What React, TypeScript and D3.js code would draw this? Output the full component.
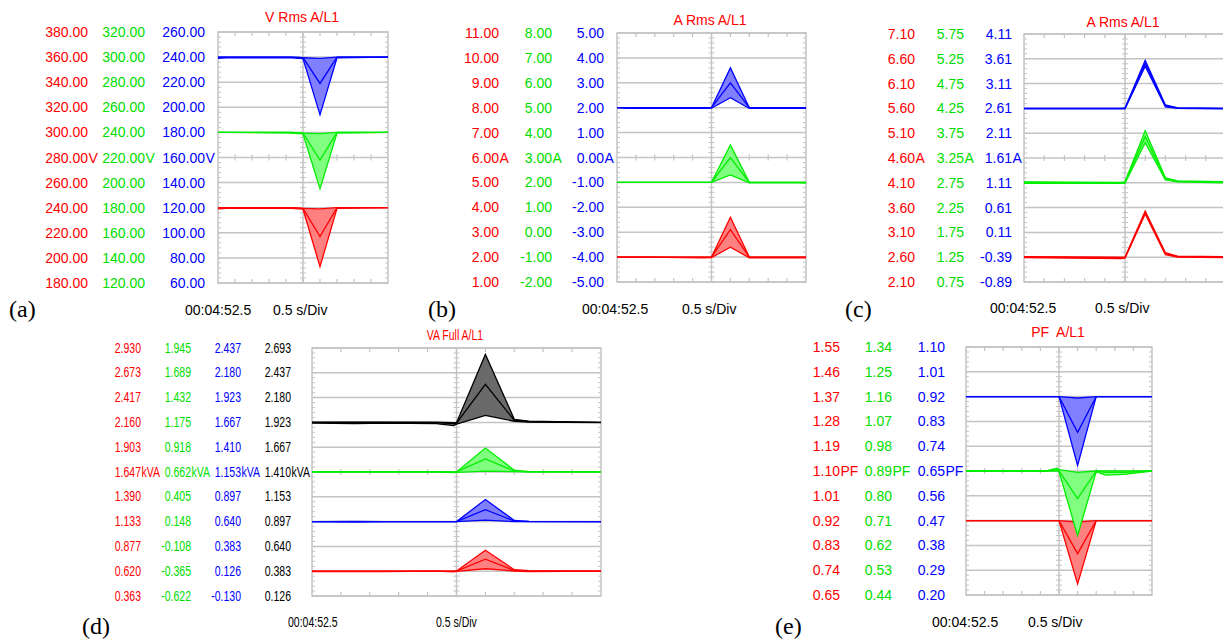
import React from "react";
import * as d3 from "d3";

// ---------------- DATA ----------------
// x positions are in divisions (0.5 s/Div, 10 divisions)
const aTicksRed = ["380.00", "360.00", "340.00", "320.00", "300.00", "280.00", "260.00", "240.00", "220.00", "200.00", "180.00"];
const aTicksGreen = ["320.00", "300.00", "280.00", "260.00", "240.00", "220.00", "200.00", "180.00", "160.00", "140.00", "120.00"];
const aTicksBlue = ["260.00", "240.00", "220.00", "200.00", "180.00", "160.00", "140.00", "120.00", "100.00", "80.00", "60.00"];
const aTime = [0, 0.5, 4.3, 5, 6, 7, 10];
const aBlueMax = [240, 240, 240, 239.5, 239, 240, 240];
const aBlueAvg = [240, 240, 240, 239.5, 219, 240, 240];
const aBlueMin = [239, 239.5, 239.5, 238.8, 194, 239.5, 240];
const aGreenMax = [240, 240, 240, 239.5, 239, 240, 240];
const aGreenAvg = [240, 240, 240, 239.5, 218, 240, 240];
const aGreenMin = [240, 240, 239.5, 238.8, 195, 239.5, 240];
const aRedMax = [240, 240, 240, 239.5, 239, 240, 240];
const aRedAvg = [240, 240, 240, 239.5, 217, 240, 240];
const aRedMin = [239, 239.5, 239.5, 238.8, 193, 239.5, 240];

const bTicksRed = ["11.00", "10.00", "9.00", "8.00", "7.00", "6.00", "5.00", "4.00", "3.00", "2.00", "1.00"];
const bTicksGreen = ["8.00", "7.00", "6.00", "5.00", "4.00", "3.00", "2.00", "1.00", "0.00", "-1.00", "-2.00"];
const bTicksBlue = ["5.00", "4.00", "3.00", "2.00", "1.00", "0.00", "-1.00", "-2.00", "-3.00", "-4.00", "-5.00"];
const bTime = [0, 0.5, 1.4, 4.6, 5, 6, 7, 7.5, 9.5, 10];
const bBlueMax = [2.0, 2.0, 2.0, 2.0, 2.0, 3.6, 2.0, 2.0, 2.0, 2.0];
const bBlueAvg = [2.0, 2.0, 2.0, 2.0, 2.0, 3.0, 2.0, 2.0, 2.0, 2.0];
const bBlueMin = [2.0, 1.97, 1.97, 1.97, 1.98, 2.4, 1.97, 1.97, 1.97, 1.97];
const bGreenMax = [2.0, 2.0, 2.0, 2.0, 2.0, 3.5, 2.0, 2.0, 2.0, 2.0];
const bGreenAvg = [2.0, 2.0, 2.0, 2.0, 2.0, 3.0, 2.0, 2.0, 2.0, 2.0];
const bGreenMin = [2.0, 2.0, 2.0, 2.0, 2.0, 2.3, 1.98, 1.98, 1.98, 1.97];
const bRedMax = [2.0, 2.0, 2.0, 2.0, 2.0, 3.6, 2.0, 2.0, 2.0, 2.0];
const bRedAvg = [2.0, 2.0, 2.0, 2.0, 2.0, 3.1, 2.0, 2.0, 2.0, 2.0];
const bRedMin = [2.0, 2.0, 2.0, 1.97, 1.98, 2.4, 1.97, 1.97, 1.97, 1.97];

const cTicksRed = ["7.10", "6.60", "6.10", "5.60", "5.10", "4.60", "4.10", "3.60", "3.10", "2.60", "2.10"];
const cTicksGreen = ["5.75", "5.25", "4.75", "4.25", "3.75", "3.25", "2.75", "2.25", "1.75", "1.25", "0.75"];
const cTicksBlue = ["4.11", "3.61", "3.11", "2.61", "2.11", "1.61", "1.11", "0.61", "0.11", "-0.39", "-0.89"];
const cTime = [0, 4.8, 5, 6, 7, 7.6, 10];
const cBlueMax = [2.61, 2.61, 2.62, 3.58, 2.68, 2.62, 2.61];
const cBlueAvg = [2.61, 2.61, 2.61, 3.52, 2.66, 2.62, 2.61];
const cBlueMin = [2.6, 2.6, 2.6, 3.46, 2.64, 2.61, 2.6];
const cGreenMax = [2.77, 2.76, 2.77, 3.8, 2.85, 2.79, 2.77];
const cGreenAvg = [2.76, 2.75, 2.76, 3.68, 2.83, 2.78, 2.76];
const cGreenMin = [2.74, 2.74, 2.74, 3.56, 2.81, 2.77, 2.75];
const cRedMax = [2.61, 2.6, 2.6, 3.53, 2.69, 2.62, 2.61];
const cRedAvg = [2.6, 2.59, 2.59, 3.5, 2.67, 2.61, 2.6];
const cRedMin = [2.59, 2.57, 2.58, 3.47, 2.65, 2.6, 2.59];

const dTicksRed = ["2.930", "2.673", "2.417", "2.160", "1.903", "1.647", "1.390", "1.133", "0.877", "0.620", "0.363"];
const dTicksGreen = ["1.945", "1.689", "1.432", "1.175", "0.918", "0.662", "0.405", "0.148", "-0.108", "-0.365", "-0.622"];
const dTicksBlue = ["2.437", "2.180", "1.923", "1.667", "1.410", "1.153", "0.897", "0.640", "0.383", "0.126", "-0.130"];
const dTicksBlack = ["2.693", "2.437", "2.180", "1.923", "1.667", "1.410", "1.153", "0.897", "0.640", "0.383", "0.126"];
const dTime = [0, 1.5, 2.5, 4.3, 4.9, 5, 6, 7, 7.5, 10];
const dBlackMax = [1.925, 1.925, 1.925, 1.925, 1.92, 1.92, 2.627, 1.955, 1.935, 1.923];
const dBlackAvg = [1.923, 1.923, 1.923, 1.92, 1.91, 1.915, 2.316, 1.945, 1.93, 1.923];
const dBlackMin = [1.915, 1.91, 1.915, 1.91, 1.89, 1.905, 1.995, 1.935, 1.925, 1.92];
const dGreenMax = [0.662, 0.662, 0.662, 0.662, 0.662, 0.662, 0.91, 0.68, 0.666, 0.662];
const dGreenAvg = [0.662, 0.662, 0.662, 0.662, 0.66, 0.662, 0.797, 0.672, 0.664, 0.662];
const dGreenMin = [0.662, 0.662, 0.662, 0.662, 0.655, 0.658, 0.67, 0.665, 0.662, 0.662];
const dBlueMax = [0.64, 0.642, 0.64, 0.64, 0.64, 0.64, 0.868, 0.652, 0.642, 0.64];
const dBlueAvg = [0.64, 0.64, 0.64, 0.64, 0.64, 0.64, 0.764, 0.646, 0.641, 0.64];
const dBlueMin = [0.64, 0.635, 0.64, 0.64, 0.64, 0.64, 0.655, 0.64, 0.64, 0.64];
const dRedMax = [0.62, 0.62, 0.62, 0.62, 0.62, 0.622, 0.837, 0.635, 0.625, 0.62];
const dRedAvg = [0.62, 0.62, 0.62, 0.62, 0.62, 0.62, 0.744, 0.628, 0.622, 0.62];
const dRedMin = [0.615, 0.615, 0.615, 0.62, 0.613, 0.618, 0.645, 0.622, 0.615, 0.62];

const eTicksRed = ["1.55", "1.46", "1.37", "1.28", "1.19", "1.10", "1.01", "0.92", "0.83", "0.74", "0.65"];
const eTicksGreen = ["1.34", "1.25", "1.16", "1.07", "0.98", "0.89", "0.80", "0.71", "0.62", "0.53", "0.44"];
const eTicksBlue = ["1.10", "1.01", "0.92", "0.83", "0.74", "0.65", "0.56", "0.47", "0.38", "0.29", "0.20"];
const eTime = [0, 4.3, 4.9, 5, 6, 7, 7.5, 8.5, 10];
const eBlueMax = [0.92, 0.92, 0.92, 0.92, 0.915, 0.92, 0.92, 0.92, 0.92];
const eBlueAvg = [0.92, 0.92, 0.92, 0.92, 0.79, 0.92, 0.92, 0.92, 0.92];
const eBlueMin = [0.92, 0.92, 0.92, 0.92, 0.67, 0.92, 0.92, 0.92, 0.92];
const eGreenMax = [0.89, 0.89, 0.9, 0.895, 0.885, 0.89, 0.89, 0.89, 0.89];
const eGreenAvg = [0.89, 0.89, 0.895, 0.89, 0.79, 0.89, 0.885, 0.885, 0.89];
const eGreenMin = [0.89, 0.89, 0.89, 0.888, 0.655, 0.888, 0.875, 0.878, 0.89];
const eRedMax = [0.92, 0.92, 0.92, 0.92, 0.915, 0.92, 0.92, 0.92, 0.92];
const eRedAvg = [0.92, 0.92, 0.92, 0.92, 0.8, 0.92, 0.92, 0.92, 0.92];
const eRedMin = [0.92, 0.92, 0.92, 0.92, 0.69, 0.92, 0.92, 0.92, 0.92];

const timeStamp = "00:04:52.5";
const timeBase = "0.5 s/Div";

// ---------------- STYLE ----------------
const RED = "#ff0000";
const GREEN_T = "#00dd00";
const GREEN = "#00ee00";
const BLUE = "#0000ff";
const BLACK = "#000000";
const FILL = { red: "#ff8080", green: "#80ff80", blue: "#8080ff", black: "#6a6a6a" };
const GRID = "#c4c4c4";
const SANS = "'Liberation Sans', Arial, sans-serif";
const SERIF = "'Liberation Serif', 'Times New Roman', serif";

type Col = { ticks: string[]; color: string; right: number };
type Series = { col: number; color: string; fill: string; max: number[]; avg: number[]; min: number[] };
type PanelCfg = {
  id: string;
  box: { x0: number; x1: number; y0: number; y1: number };
  cols: Col[];
  unit: string;
  time: number[];
  series: Series[];
  title: string;
  titleX: number;
  titleY: number;
  tsX: number;
  tbX: number;
  labY: number;
  tag: string;
  tagX: number;
  tagY: number;
  sx: number;
};

const panels: PanelCfg[] = [
  {
    id: "a", box: { x0: 218, x1: 388, y0: 32, y1: 283 },
    cols: [
      { ticks: aTicksRed, color: RED, right: 88 },
      { ticks: aTicksGreen, color: GREEN_T, right: 145 },
      { ticks: aTicksBlue, color: BLUE, right: 205 },
    ],
    unit: "V", time: aTime,
    series: [
      { col: 0, color: RED, fill: FILL.red, max: aRedMax, avg: aRedAvg, min: aRedMin },
      { col: 1, color: GREEN, fill: FILL.green, max: aGreenMax, avg: aGreenAvg, min: aGreenMin },
      { col: 2, color: BLUE, fill: FILL.blue, max: aBlueMax, avg: aBlueAvg, min: aBlueMin },
    ],
    title: "V Rms A/L1", titleX: 302, titleY: 17,
    tsX: 185, tbX: 273, labY: 310, tag: "(a)", tagX: 9, tagY: 317, sx: 1,
  },
  {
    id: "b", box: { x0: 617, x1: 806, y0: 33, y1: 282 },
    cols: [
      { ticks: bTicksRed, color: RED, right: 499 },
      { ticks: bTicksGreen, color: GREEN_T, right: 552 },
      { ticks: bTicksBlue, color: BLUE, right: 604 },
    ],
    unit: "A", time: bTime,
    series: [
      { col: 0, color: RED, fill: FILL.red, max: bRedMax, avg: bRedAvg, min: bRedMin },
      { col: 1, color: GREEN, fill: FILL.green, max: bGreenMax, avg: bGreenAvg, min: bGreenMin },
      { col: 2, color: BLUE, fill: FILL.blue, max: bBlueMax, avg: bBlueAvg, min: bBlueMin },
    ],
    title: "A Rms A/L1", titleX: 710, titleY: 20,
    tsX: 582, tbX: 682, labY: 309, tag: "(b)", tagX: 428, tagY: 317, sx: 1,
  },
  {
    id: "c", box: { x0: 1024, x1: 1226, y0: 34, y1: 282 },
    cols: [
      { ticks: cTicksRed, color: RED, right: 915 },
      { ticks: cTicksGreen, color: GREEN_T, right: 964 },
      { ticks: cTicksBlue, color: BLUE, right: 1012 },
    ],
    unit: "A", time: cTime,
    series: [
      { col: 0, color: RED, fill: FILL.red, max: cRedMax, avg: cRedAvg, min: cRedMin },
      { col: 1, color: GREEN, fill: FILL.green, max: cGreenMax, avg: cGreenAvg, min: cGreenMin },
      { col: 2, color: BLUE, fill: FILL.blue, max: cBlueMax, avg: cBlueAvg, min: cBlueMin },
    ],
    title: "A Rms A/L1", titleX: 1123, titleY: 22,
    tsX: 990, tbX: 1095, labY: 308, tag: "(c)", tagX: 845, tagY: 317, sx: 1,
  },
  {
    id: "d", box: { x0: 312, x1: 601, y0: 348, y1: 596 },
    cols: [
      { ticks: dTicksRed, color: RED, right: 141 },
      { ticks: dTicksGreen, color: GREEN_T, right: 191 },
      { ticks: dTicksBlue, color: BLUE, right: 241 },
      { ticks: dTicksBlack, color: BLACK, right: 291 },
    ],
    unit: "kVA", time: dTime,
    series: [
      { col: 0, color: RED, fill: FILL.red, max: dRedMax, avg: dRedAvg, min: dRedMin },
      { col: 2, color: BLUE, fill: FILL.blue, max: dBlueMax, avg: dBlueAvg, min: dBlueMin },
      { col: 1, color: GREEN, fill: FILL.green, max: dGreenMax, avg: dGreenAvg, min: dGreenMin },
      { col: 3, color: BLACK, fill: FILL.black, max: dBlackMax, avg: dBlackAvg, min: dBlackMin },
    ],
    title: "VA Full A/L1", titleX: 455, titleY: 335,
    tsX: 288, tbX: 436, labY: 622, tag: "(d)", tagX: 82, tagY: 634, sx: 0.75,
  },
  {
    id: "e", box: { x0: 966, x1: 1152, y0: 347, y1: 595 },
    cols: [
      { ticks: eTicksRed, color: RED, right: 840 },
      { ticks: eTicksGreen, color: GREEN_T, right: 892 },
      { ticks: eTicksBlue, color: BLUE, right: 945 },
    ],
    unit: "PF", time: eTime,
    series: [
      { col: 0, color: RED, fill: FILL.red, max: eRedMax, avg: eRedAvg, min: eRedMin },
      { col: 1, color: GREEN, fill: FILL.green, max: eGreenMax, avg: eGreenAvg, min: eGreenMin },
      { col: 2, color: BLUE, fill: FILL.blue, max: eBlueMax, avg: eBlueAvg, min: eBlueMin },
    ],
    title: "PF  A/L1", titleX: 1058, titleY: 332,
    tsX: 932, tbX: 1028, labY: 622, tag: "(e)", tagX: 775, tagY: 634, sx: 1,
  },
];

function T({ x, y, sx, anchor, color, size, children, family }: any) {
  return (
    <text
      transform={`translate(${x},${y}) scale(${sx},1)`}
      textAnchor={anchor}
      dominantBaseline="central"
      fill={color}
      fontSize={size}
      fontFamily={family || SANS}
      style={{ whiteSpace: "pre" }}
    >
      {children}
    </text>
  );
}

function Panel({ p }: { p: PanelCfg }) {
  const { x0, x1, y0, y1 } = p.box;
  const x = d3.scaleLinear().domain([0, 10]).range([x0, x1]);
  const nRows = p.cols[0].ticks.length;
  const rowY = d3.scaleLinear().domain([0, nRows - 1]).range([y0, y1]);
  const rowStep = (y1 - y0) / (nRows - 1);
  const mid = Math.floor(nRows / 2);
  const yScales = p.cols.map((c) =>
    d3.scaleLinear().domain([parseFloat(c.ticks[c.ticks.length - 1]), parseFloat(c.ticks[0])]).range([y1, y0])
  );
  const minor = d3.range(0, (nRows - 1) * 5 + 1).map((i) => y0 + (i * rowStep) / 5);
  const divs = d3.range(1, 10);
  const cx = x(5);
  const fs = 14;

  return (
    <g>
      <defs>
        <clipPath id={`clip-${p.id}`}>
          <rect x={x0} y={y0 - 2} width={x1 - x0} height={y1 - y0 + 4} />
        </clipPath>
      </defs>
      {/* grid */}
      {d3.range(nRows).map((i) => (
        <line key={`g${i}`} x1={x0} x2={x1} y1={rowY(i)} y2={rowY(i)} stroke={GRID} strokeWidth={1.5} />
      ))}
      <rect x={x0} y={y0} width={x1 - x0} height={y1 - y0} fill="none" stroke={GRID} strokeWidth={1.5} />
      <line x1={cx} x2={cx} y1={y0} y2={y1} stroke={GRID} strokeWidth={1.5} />
      {minor.map((yy, i) => (
        <g key={`m${i}`} stroke={GRID} strokeWidth={1}>
          <line x1={x0} x2={x0 + 3} y1={yy} y2={yy} />
          <line x1={x1} x2={x1 - 3} y1={yy} y2={yy} />
          <line x1={cx - 3} x2={cx + 3} y1={yy} y2={yy} />
        </g>
      ))}
      {divs.map((d) => (
        <g key={`d${d}`} stroke={GRID} strokeWidth={1.2}>
          <line x1={x(d)} x2={x(d)} y1={y0} y2={y0 + 4} />
          <line x1={x(d)} x2={x(d)} y1={y1} y2={y1 - 4} />
          <line x1={x(d)} x2={x(d)} y1={rowY(mid) - 3} y2={rowY(mid) + 3} />
        </g>
      ))}
      {/* traces */}
      <g clipPath={`url(#clip-${p.id})`}>
        {p.series.map((s, si) => {
          const y = yScales[s.col];
          const area = d3
            .area<number>()
            .x((_, i) => x(p.time[i]))
            .y0((_, i) => y(s.min[i]))
            .y1((_, i) => y(s.max[i]));
          const line = (arr: number[]) =>
            d3
              .line<number>()
              .x((_, i) => x(p.time[i]))
              .y((v) => y(v))(arr) || "";
          return (
            <g key={`s${si}`}>
              <path d={area(s.max) || ""} fill={s.fill} stroke="none" />
              <path d={line(s.max)} fill="none" stroke={s.color} strokeWidth={1.3} />
              <path d={line(s.avg)} fill="none" stroke={s.color} strokeWidth={1.3} />
              <path d={line(s.min)} fill="none" stroke={s.color} strokeWidth={1.3} />
            </g>
          );
        })}
      </g>
      {/* tick labels */}
      {p.cols.map((c, ci) =>
        c.ticks.map((t, i) => (
          <g key={`t${ci}-${i}`}>
            <T x={c.right} y={rowY(i)} sx={p.sx} anchor="end" color={c.color} size={fs}>
              {t}
            </T>
            {i === mid && (
              <T x={c.right + 0.5} y={rowY(i)} sx={p.sx} anchor="start" color={c.color} size={fs}>
                {p.unit}
              </T>
            )}
          </g>
        ))
      )}
      <T x={p.titleX} y={p.titleY} sx={p.sx} anchor="middle" color={RED} size={fs}>
        {p.title}
      </T>
      <T x={p.tsX} y={p.labY} sx={p.sx} anchor="start" color={BLACK} size={fs}>
        {timeStamp}
      </T>
      <T x={p.tbX} y={p.labY} sx={p.sx} anchor="start" color={BLACK} size={fs}>
        {timeBase}
      </T>
      <text x={p.tagX} y={p.tagY} fontFamily={SERIF} fontSize={24} fill={BLACK}>
        {p.tag}
      </text>
    </g>
  );
}

export default function App() {
  return (
    <svg
      width={1223}
      height={639}
      style={{ position: "absolute", left: 0, top: 0, background: "#fff" }}
    >
      <rect x={0} y={0} width={1223} height={639} fill="#fff" />
      {panels.map((p) => (
        <Panel key={p.id} p={p} />
      ))}
    </svg>
  );
}
